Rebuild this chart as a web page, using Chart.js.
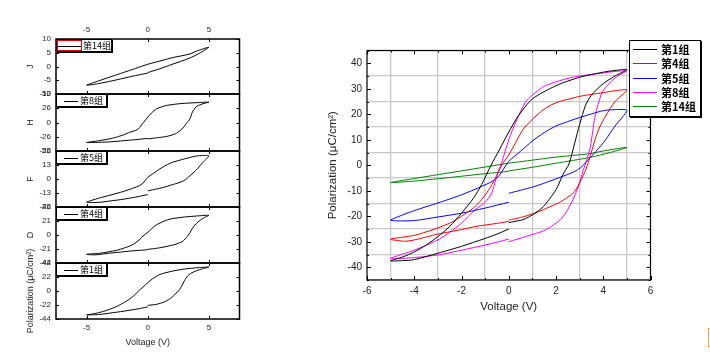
<!DOCTYPE html>
<html><head><meta charset="utf-8">
<script src="https://cdn.jsdelivr.net/npm/chart.js@4.4.1/dist/chart.umd.min.js"></script>
<style>
html,body{margin:0;padding:0;background:#fff;width:710px;height:357px;overflow:hidden;position:relative;font-family:"Liberation Sans",Arial,sans-serif}
.box{position:absolute}
.lg{position:absolute;background:#fff;border:1px solid #000;box-sizing:border-box;box-shadow:1px 1px 0 #000;font-family:"Noto Sans CJK SC",sans-serif;color:#000}
.smp{position:absolute;height:1px;background:#000}
.txt{position:absolute;white-space:nowrap;font-weight:bold}
#cursor{position:absolute;left:708px;top:328px;width:2px;height:17px;border:1.5px solid #f7a33c;border-right:none}
</style></head><body>
<script>
// ---------- data ----------
const groups = ['第1组','第4组','第5组','第8组','第14组'];
const colors = ['#000000','#ff0000','#0000ff','#ff00ff','#008000'];

// each loop: 0 -> +5, +5 -> -5, -5 -> 0
const g1V  = [0,0.7,1.4,2.0,2.3,2.55,2.8,3.0,3.25,3.5,4.0,4.5,5, 4.5,4,3,2,1,0.4,0,-0.4,-0.75,-1.15,-1.5,-2,-2.5,-3,-3.5,-4,-4.5,-5, -4.5,-4,-3,-2,-1,-0.5,0];
const g1P  = [-22.5,-21,-16.8,-9.6,-3.5,0.5,9,16,23.5,27.5,32,35,37.5, 37.2,36.5,34.5,31.2,26,19.3,13,6,0,-7.6,-13,-18.8,-24,-28,-31.3,-34,-36,-37.5, -37.4,-37,-34.5,-31.8,-28.7,-27,-25];

const g4V  = [0,0.5,1.1,2.1,2.5,2.8,3.05,3.25,3.4,3.65,3.85,4.1,4.5,5, 4.5,4,3,2,1.5,1,0.6,0.3,0,-0.3,-0.45,-0.8,-1.15,-1.5,-2,-2.5,-3.25,-4,-5, -4.4,-4,-3,-2,-1.4,-0.5,0];
const g4P  = [-21.5,-20.5,-18.8,-14.8,-12.5,-10.2,-6,-2,2,10,15,19.3,25,29.5, 29.2,28.5,27,24.5,22,18,14,9,4,0,-3,-9,-13.5,-16.8,-20,-22.7,-25.4,-27.5,-29, -29.8,-29.3,-27,-25.2,-24,-22.8,-22];

const g5V  = [0,0.5,1.1,2.1,2.8,3.1,3.35,3.7,4.1,4.5,5, 4.5,4,3,2,1.5,1,0.5,0,-0.4,-0.7,-1.15,-2,-3,-4,-5, -4.7,-4,-3,-2,-1,0];
const g5P  = [-11,-9.8,-8.3,-5,-2.4,-0.5,2,5.5,10,15.4,21.5, 21.8,21.4,18.7,15.4,12.8,9.5,5.5,1.5,-4,-6.3,-8.3,-11.6,-14.8,-17.8,-21.5, -21.8,-21.7,-20.3,-18.8,-16.8,-14.5];

const g8V  = [0,0.7,1.55,2.25,2.65,2.95,3.15,3.3,3.45,3.55,3.65,3.95,4.35,4.7,5, 4.5,4,2.7,1.55,1,0.7,0.3,0,-0.3,-0.45,-0.72,-1,-1.43,-2,-2.5,-3,-4,-5, -4.5,-4,-3,-2,-1,0];
const g8P  = [-30,-28,-25.4,-20.7,-14.8,-8.3,-2,2,7,13,19,28.5,33,35.5,37, 36.8,36.2,34.5,31.2,27.5,24.6,17,10,1,-2.5,-10.9,-14.5,-17.5,-22.7,-26.3,-29.3,-33.3,-36.5, -36.5,-36.2,-35.2,-33.3,-31.3,-29];

const g14V = [0,1,2,3.4,4.3,5, 4,3.4,2,1.25,0,-1,-2,-3,-4,-5, -4,-3,-2,-1,0];
const g14P = [-2.2,-0.8,0.8,3,5,7, 5.6,4.5,3.2,2.3,0.8,-0.7,-2.2,-3.7,-5.2,-6.8, -6.2,-5.3,-4.3,-3.3,-2.4];

const seriesV = [g1V,g4V,g5V,g8V,g14V];
const seriesP = [g1P,g4P,g5P,g8P,g14P];

// left stacked panels (top to bottom): group index, axis title, y limit, tick step
const panelGroup = [4,3,2,1,0];
const panelTitle = ['J','H','F','D','Polarization (μC/cm²)'];
const panelLimit = [10,52,26,42,44];
const panelStep  = [5,26,13,21,22];
const smallXTicks = [-5,0,5];

const xLabel = 'Voltage (V)';
const yLabel = 'Polarization (μC/cm²)';
// -----------------------------------------------------

const pts = i => seriesV[i].map((v,k)=>({x:v,y:seriesP[i][k]}));

const framePlugin = {
  id:'frame',
  afterDraw(c, a, o){
    const ar=c.chartArea, ctx=c.ctx, xs=c.scales.x, ys=c.scales.y;
    ctx.save();
    ctx.strokeStyle='#000'; ctx.lineWidth=1;
    ctx.beginPath();
    xs.ticks.forEach(t=>{
      const p=Math.round(xs.getPixelForValue(t.value))+0.5;
      const L=o.xLen(t.value);
      ctx.moveTo(p,ar.bottom); ctx.lineTo(p,ar.bottom-L);
      ctx.moveTo(p,ar.top); ctx.lineTo(p,ar.top+L);
    });
    ys.ticks.forEach(t=>{
      const p=Math.round(ys.getPixelForValue(t.value))+0.5;
      const L=o.yLen(t.value);
      ctx.moveTo(ar.left,p); ctx.lineTo(ar.left+L,p);
      ctx.moveTo(ar.right,p); ctx.lineTo(ar.right-L,p);
    });
    ctx.stroke();
    ctx.lineWidth=o.width||1;
    ctx.strokeRect(ar.left, ar.top, ar.right-ar.left, ar.bottom-ar.top);
    ctx.restore();
  }
};

function makeCanvas(left, top, w, h){
  const d=document.createElement('div');
  d.className='box';
  Object.assign(d.style,{left:left+'px',top:top+'px',width:w+'px',height:h+'px'});
  const c=document.createElement('canvas');
  d.appendChild(c); document.body.appendChild(d);
  return c;
}

// ---------- left stacked panels ----------
const edges=[39,94,151,207,263,319];
const LW=245, M=14;
for(let i=0;i<5;i++){
  const t=edges[i], b=edges[i+1];
  let cTop, cH, padTop, padBottom, xOpt;
  const baseX = {type:'linear', min:-7.5, max:7.5,
    afterBuildTicks:s=>{s.ticks=smallXTicks.map(v=>({value:v}));},
    grid:{display:false, drawTicks:false}, border:{display:false}};
  if(i===0){
    cTop=20; cH=b+M-cTop; padTop=0; padBottom=M;
    xOpt=Object.assign({}, baseX, {position:'top',
      afterFit:s=>{s.height=19;},
      ticks:{padding:4, maxRotation:0, color:'#222', font:{size:8,family:'Liberation Sans'}}});
  } else if(i===4){
    const up=40;
    cTop=t-up; cH=357-cTop; padTop=up; padBottom=357-b-33;
    xOpt=Object.assign({}, baseX, {position:'bottom',
      afterFit:s=>{s.height=33;},
      ticks:{padding:4, maxRotation:0, color:'#222', font:{size:8,family:'Liberation Sans'}},
      title:{display:true, text:xLabel, color:'#222', font:{size:9,family:'Liberation Sans'}, padding:{top:2,bottom:4}}});
  } else {
    cTop=t-M; cH=b-t+2*M; padTop=M; padBottom=M;
    xOpt=Object.assign({}, baseX, {display:false});
  }
  const g=panelGroup[i];
  new Chart(makeCanvas(0,cTop,LW,cH),{
    type:'scatter',
    data:{datasets:[{label:groups[g], data:pts(g), showLine:true, borderColor:'#000', borderWidth:1, pointRadius:0, tension:0.25, fill:false}]},
    options:{
      responsive:true, maintainAspectRatio:false, animation:false, events:[],
      layout:{padding:{left:21, right:LW-239.5, top:padTop, bottom:padBottom}},
      plugins:{legend:{display:false}, tooltip:{enabled:false},
        frame:{width:1.5, xLen:()=>3, yLen:()=>3}},
      scales:{
        x:xOpt,
        y:{type:'linear', min:-panelLimit[i], max:panelLimit[i],
          ticks:{stepSize:panelStep[i], padding:5, color:'#222', font:{size:8,family:'Liberation Sans'}},
          afterFit:s=>{s.width=35;},
          grid:{display:false, drawTicks:false}, border:{display:false},
          title:{display:true, text:panelTitle[i], color:'#222', font:{size:9,family:'Liberation Sans'}, padding:4}}
      }
    },
    plugins:[framePlugin]
  });
  // panel legend
  const lg=document.createElement('div'); lg.className='lg';
  const wide = groups[g].length>3;
  Object.assign(lg.style,{left:'56px',top:t+'px',width:(wide?56:51)+'px',height:'13px',fontSize:'9px'});
  const s=document.createElement('div'); s.className='smp';
  Object.assign(s.style,{left:(wide?1:7)+'px',width:(wide?24:14)+'px',top:'6px'});
  lg.appendChild(s);
  if(wide){
    const r=document.createElement('div');
    Object.assign(r.style,{position:'absolute',left:'0px',top:'0px',width:'25px',height:'11px',border:'1px solid #e00',boxSizing:'border-box'});
    lg.appendChild(r);
  }
  const tx=document.createElement('div'); tx.className='txt'; tx.textContent=groups[g];
  Object.assign(tx.style,{left:(wide?26:23)+'px',top:'-1px',lineHeight:'13px',fontWeight:'normal'});
  lg.appendChild(tx);
  document.body.appendChild(lg);
}

// ---------- main chart ----------
const MW=410;
new Chart(makeCanvas(300,0,MW,357),{
  type:'scatter',
  data:{datasets:groups.map((n,i)=>({label:n, data:pts(i), showLine:true, borderColor:colors[i], borderWidth:1, pointRadius:0, tension:0.25, fill:false}))},
  options:{
    responsive:true, maintainAspectRatio:false, animation:false, events:[],
    layout:{padding:{left:22, right:MW-350.5, top:50.5, bottom:39}},
    plugins:{legend:{display:false}, tooltip:{enabled:false},
      frame:{width:1.2, xLen:v=>(Math.abs(v)%2===0?4:2), yLen:v=>(Math.abs(v)%10===0?4:2)}},
    scales:{
      x:{type:'linear', min:-6, max:6,
        ticks:{stepSize:1, autoSkip:false, maxRotation:0, padding:5, color:'#222', font:{size:10,family:'Liberation Sans'},
          callback:v=>(Math.abs(v)%2===0? String(v===0?0:v):'')},
        afterFit:s=>{s.height=38;},
        grid:{drawTicks:false, lineWidth:1.3, color:c=>(c.tick && Math.abs(c.tick.value)%2===1?'#c8c8c8':'rgba(0,0,0,0)')},
        border:{display:false},
        title:{display:true, text:xLabel, color:'#222', font:{size:11.5,family:'Liberation Sans'}, padding:4}},
      y:{type:'linear', min:-45, max:45,
        ticks:{stepSize:5, autoSkip:false, padding:5, color:'#222', font:{size:10,family:'Liberation Sans'},
          callback:v=>(Math.abs(v)%10===0? String(v===0?0:v):'')},
        afterFit:s=>{s.width=45;},
        grid:{drawTicks:false, lineWidth:1.3, color:c=>(c.tick && Math.abs(c.tick.value)%10===5?'#c8c8c8':'rgba(0,0,0,0)')},
        border:{display:false},
        title:{display:true, text:yLabel, color:'#222', font:{size:11.5,family:'Liberation Sans'}, padding:4}}
    }
  },
  plugins:[framePlugin]
});

// main legend
const L=document.createElement('div'); L.className='lg';
Object.assign(L.style,{left:'629px',top:'40px',width:'72px',height:'77px',fontSize:'11px'});
groups.forEach((n,i)=>{
  const s=document.createElement('div'); s.className='smp';
  Object.assign(s.style,{left:'3px',width:'24px',top:Math.round(8+i*14.3)+'px',background:colors[i]});
  L.appendChild(s);
  const tx=document.createElement('div'); tx.className='txt'; tx.textContent=n;
  Object.assign(tx.style,{left:'31px',top:Math.round(1+i*14.3)+'px',lineHeight:'15px'});
  L.appendChild(tx);
});
document.body.appendChild(L);
const cur=document.createElement('div'); cur.id='cursor'; document.body.appendChild(cur);
</script>
</body></html>
